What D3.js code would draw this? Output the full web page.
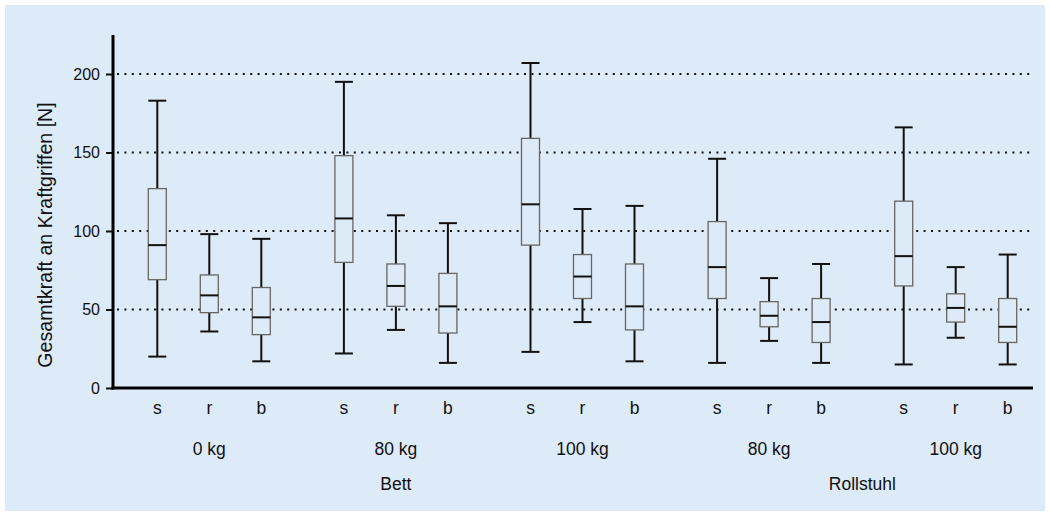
<!DOCTYPE html>
<html>
<head>
<meta charset="utf-8">
<script src="https://cdn.jsdelivr.net/npm/d3@7"></script>
<style>
  body { margin: 0; background: #fff; }
  text { font-family: "Liberation Sans", Arial, sans-serif; fill: #111; }
</style>
</head>
<body>
<script>
// groups along the x axis, each with three handle types
const groups = ['0 kg', '80 kg', '100 kg', '80 kg ', '100 kg '];
const handles = ['s', 'r', 'b'];
const sections = [
  { name: 'Bett', from: 0, to: 2 },
  { name: 'Rollstuhl', from: 3, to: 4 }
];
const yTicks = [0, 50, 100, 150, 200];

// per group: [min, q1, median, q3, max] for s, r, b
const lows    = [[20, 36, 17],  [22, 37, 16],  [23, 42, 17],  [16, 30, 16],  [15, 32, 15]];
const q1s     = [[69, 48, 34],  [80, 52, 35],  [91, 57, 37],  [57, 39, 29],  [65, 42, 29]];
const medians = [[91, 59, 45],  [108, 65, 52], [117, 71, 52], [77, 46, 42],  [84, 51, 39]];
const q3s     = [[127, 72, 64], [148, 79, 73], [159, 85, 79], [106, 55, 57], [119, 60, 57]];
const highs   = [[183, 98, 95], [195, 110, 105], [207, 114, 116], [146, 70, 79], [166, 77, 85]];

const width = 1050;
const height = 516;
const bg = '#ddeaf7';

const svg = d3.select('body').append('svg')
  .attr('width', width)
  .attr('height', height);

svg.append('rect')
  .attr('x', 5).attr('y', 5)
  .attr('width', width - 10).attr('height', height - 10)
  .attr('fill', bg);

const x0 = 113, x1 = 1033, yBase = 388;

const y = d3.scaleLinear().domain([0, 200]).range([yBase, 74]);
const xGroup = d3.scaleBand().domain(groups).range([116, 1049]);
const xHandle = d3.scalePoint().domain(handles).range([-52, 52]);
const boxW = 18;

// dotted grid
svg.append('g')
  .selectAll('line')
  .data(yTicks.filter(d => d > 0))
  .enter().append('line')
  .attr('x1', x0 + 4).attr('x2', x1)
  .attr('y1', d => y(d)).attr('y2', d => y(d))
  .attr('stroke', '#111')
  .attr('stroke-width', 2)
  .attr('stroke-dasharray', '2,5.4');

// flatten the data
let boxes = [];
groups.forEach((g, gi) => {
  handles.forEach((h, hi) => {
    boxes.push({
      g: g, h: h,
      cx: xGroup(g) + xGroup.bandwidth() / 2 + xHandle(h),
      lo: lows[gi][hi], q1: q1s[gi][hi], med: medians[gi][hi],
      q3: q3s[gi][hi], hi: highs[gi][hi]
    });
  });
});

const bx = svg.append('g').selectAll('g').data(boxes).enter().append('g');

bx.append('line')
  .attr('x1', d => d.cx).attr('x2', d => d.cx)
  .attr('y1', d => y(d.lo)).attr('y2', d => y(d.hi))
  .attr('stroke', '#111').attr('stroke-width', 2);

bx.selectAll('.cap')
  .data(d => [d, d].map((e, i) => ({ cx: e.cx, v: i ? e.hi : e.lo })))
  .enter().append('line')
  .attr('class', 'cap')
  .attr('x1', d => d.cx - boxW / 2).attr('x2', d => d.cx + boxW / 2)
  .attr('y1', d => y(d.v)).attr('y2', d => y(d.v))
  .attr('stroke', '#111').attr('stroke-width', 2);

bx.append('rect')
  .attr('x', d => d.cx - boxW / 2)
  .attr('y', d => y(d.q3))
  .attr('width', boxW)
  .attr('height', d => y(d.q1) - y(d.q3))
  .attr('fill', bg)
  .attr('stroke', '#666')
  .attr('stroke-width', 1.3);

bx.append('line')
  .attr('x1', d => d.cx - boxW / 2).attr('x2', d => d.cx + boxW / 2)
  .attr('y1', d => y(d.med)).attr('y2', d => y(d.med))
  .attr('stroke', '#111').attr('stroke-width', 2);

// y axis
const yAxis = svg.append('g')
  .attr('transform', `translate(${x0},0)`)
  .call(d3.axisLeft(y).tickValues(yTicks).tickSize(7).tickPadding(6));
yAxis.select('.domain').remove();
yAxis.selectAll('line').attr('stroke', '#111').attr('stroke-width', 2);
yAxis.selectAll('text').attr('font-size', 16).style('font-family', '"Liberation Sans", Arial, sans-serif').attr('fill', '#111');

svg.append('line')
  .attr('x1', x0).attr('x2', x0)
  .attr('y1', 35).attr('y2', yBase + 1.5)
  .attr('stroke', '#000').attr('stroke-width', 3);
svg.append('line')
  .attr('x1', x0 - 1.5).attr('x2', x1)
  .attr('y1', yBase).attr('y2', yBase)
  .attr('stroke', '#000').attr('stroke-width', 3);

// x labels
svg.append('g').selectAll('text')
  .data(boxes).enter().append('text')
  .attr('x', d => d.cx).attr('y', 414)
  .attr('text-anchor', 'middle')
  .attr('font-size', 17.5)
  .text(d => d.h);

svg.append('g').selectAll('text')
  .data(groups).enter().append('text')
  .attr('x', d => xGroup(d) + xGroup.bandwidth() / 2)
  .attr('y', 455)
  .attr('text-anchor', 'middle')
  .attr('font-size', 17.5)
  .text(d => d.trim());

svg.append('g').selectAll('text')
  .data(sections).enter().append('text')
  .attr('x', d => (xGroup(groups[d.from]) + xGroup(groups[d.to]) + xGroup.bandwidth()) / 2)
  .attr('y', 490)
  .attr('text-anchor', 'middle')
  .attr('font-size', 17.5)
  .text(d => d.name);

svg.append('text')
  .attr('transform', 'translate(52,235) rotate(-90)')
  .attr('text-anchor', 'middle')
  .attr('font-size', 19.6)
  .text('Gesamtkraft an Kraftgriffen [N]');
</script>
</body>
</html>
